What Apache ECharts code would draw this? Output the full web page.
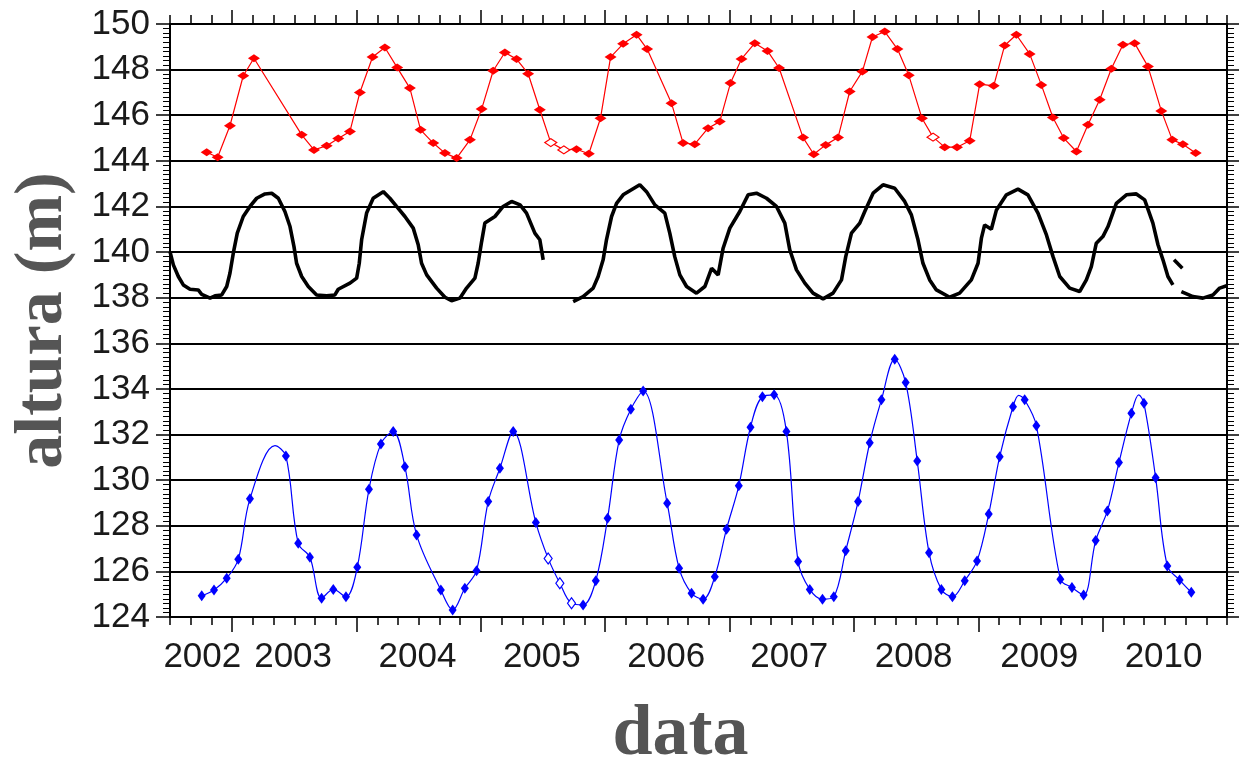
<!DOCTYPE html>
<html>
<head>
<meta charset="utf-8">
<title>altura (m)</title>
<script src="https://cdn.jsdelivr.net/npm/echarts@6/dist/echarts.min.js"></script>
<style>
  html, body { margin: 0; padding: 0; background: #fff; }
  #chart { width: 1239px; height: 758px; }
</style>
</head>
<body>
<div id="chart"></div>
<script>
// eixo x em anos decimais, eixo y em metros
const X_MIN = 2002.5;
const X_MAX = 2011;
const yearTicks = [2003, 2004, 2005, 2006, 2007, 2008, 2009, 2010];
const yearLabelPos = [2002.76, 2003.49, 2004.49, 2005.49, 2006.49, 2007.48, 2008.48, 2009.49, 2010.49];
const yearLabels = ['2002', '2003', '2004', '2005', '2006', '2007', '2008', '2009', '2010'];

// serie vermelha (pontos de altimetria)
const redData = [
  [2002.795, 144.38], [2002.883, 144.16], [2002.982, 145.54], [2003.089, 147.73], [2003.175, 148.50],
  [2003.559, 145.14], [2003.658, 144.48], [2003.760, 144.66], [2003.853, 144.98], [2003.947, 145.29],
  [2004.027, 147.00], [2004.129, 148.55], [2004.228, 148.97], [2004.327, 148.09], [2004.429, 147.19],
  [2004.515, 145.36], [2004.617, 144.78], [2004.711, 144.34], [2004.805, 144.12], [2004.912, 144.92],
  [2005.006, 146.27], [2005.099, 147.95], [2005.193, 148.75], [2005.287, 148.46], [2005.380, 147.82],
  [2005.474, 146.24], [2005.562, 144.80], [2005.667, 144.48], [2005.769, 144.51], [2005.868, 144.31],
  [2005.962, 145.87], [2006.043, 148.55], [2006.144, 149.13], [2006.252, 149.53], [2006.337, 148.90],
  [2006.533, 146.53], [2006.626, 144.78], [2006.720, 144.73], [2006.827, 145.43], [2006.921, 145.72],
  [2007.007, 147.41], [2007.096, 148.47], [2007.203, 149.16], [2007.305, 148.82], [2007.398, 148.07],
  [2007.591, 145.02], [2007.677, 144.29], [2007.773, 144.70], [2007.872, 145.02], [2007.966, 147.04],
  [2008.068, 147.92], [2008.149, 149.43], [2008.248, 149.67], [2008.350, 148.90], [2008.441, 147.75],
  [2008.547, 145.87], [2008.636, 145.04], [2008.730, 144.60], [2008.829, 144.60], [2008.931, 144.88],
  [2009.011, 147.36], [2009.124, 147.29], [2009.212, 149.06], [2009.306, 149.53], [2009.413, 148.69],
  [2009.507, 147.33], [2009.600, 145.90], [2009.687, 145.00], [2009.789, 144.41], [2009.882, 145.58],
  [2009.976, 146.68], [2010.070, 148.04], [2010.163, 149.09], [2010.257, 149.16], [2010.364, 148.14],
  [2010.472, 146.19], [2010.560, 144.92], [2010.645, 144.73], [2010.748, 144.34]
];
const redOpen = [2005.562, 2005.667, 2008.636];

// serie preta (regua, com falhas)
const blackA = [
  [2002.500, 140.02], [2002.527, 139.44], [2002.567, 138.93], [2002.607, 138.56], [2002.661, 138.37],
  [2002.727, 138.34], [2002.755, 138.15], [2002.822, 137.98], [2002.862, 138.08], [2002.916, 138.12],
  [2002.956, 138.49], [2002.982, 139.07], [2003.009, 139.95], [2003.041, 140.83], [2003.089, 141.56],
  [2003.143, 142.00], [2003.197, 142.36], [2003.264, 142.55], [2003.318, 142.58], [2003.371, 142.36],
  [2003.424, 141.78], [2003.465, 141.12], [2003.497, 140.24], [2003.518, 139.51], [2003.559, 138.93],
  [2003.612, 138.49], [2003.679, 138.12], [2003.760, 138.08], [2003.826, 138.12], [2003.853, 138.37],
  [2003.947, 138.64], [2004.001, 138.86], [2004.022, 139.51], [2004.041, 140.54], [2004.081, 141.71],
  [2004.134, 142.36], [2004.215, 142.65], [2004.268, 142.36], [2004.322, 142.00], [2004.389, 141.56],
  [2004.456, 141.05], [2004.496, 140.32], [2004.523, 139.51], [2004.564, 139.00], [2004.644, 138.42],
  [2004.711, 138.02], [2004.764, 137.87], [2004.831, 137.98], [2004.885, 138.42], [2004.952, 138.86],
  [2004.978, 139.51], [2005.006, 140.46], [2005.032, 141.27], [2005.113, 141.56], [2005.179, 142.00],
  [2005.247, 142.22], [2005.315, 142.07], [2005.367, 141.71], [2005.434, 140.83], [2005.474, 140.54],
  [2005.501, 139.66]
];
const blackB = [
  [2005.742, 137.83], [2005.822, 138.05], [2005.903, 138.42], [2005.943, 138.93], [2005.983, 139.66],
  [2006.010, 140.54], [2006.051, 141.56], [2006.091, 142.14], [2006.144, 142.51], [2006.211, 142.73],
  [2006.278, 142.95], [2006.332, 142.65], [2006.399, 142.07], [2006.479, 141.71], [2006.519, 140.83],
  [2006.559, 139.80], [2006.600, 139.00], [2006.654, 138.49], [2006.734, 138.20], [2006.801, 138.49],
  [2006.855, 139.29], [2006.908, 139.00], [2006.948, 140.17], [2007.002, 141.05], [2007.082, 141.78],
  [2007.149, 142.51], [2007.216, 142.58], [2007.297, 142.36], [2007.377, 142.00], [2007.444, 141.27],
  [2007.484, 140.10], [2007.538, 139.22], [2007.605, 138.64], [2007.671, 138.20], [2007.752, 137.95],
  [2007.832, 138.20], [2007.900, 138.78], [2007.934, 139.80], [2007.980, 140.83], [2008.047, 141.27],
  [2008.087, 141.78], [2008.154, 142.58], [2008.234, 142.95], [2008.328, 142.80], [2008.408, 142.22],
  [2008.462, 141.63], [2008.515, 140.54], [2008.555, 139.51], [2008.609, 138.78], [2008.663, 138.34],
  [2008.770, 138.02], [2008.850, 138.20], [2008.944, 138.78], [2008.998, 139.51], [2009.025, 140.61],
  [2009.051, 141.19], [2009.105, 141.00], [2009.146, 141.85], [2009.226, 142.51], [2009.319, 142.76],
  [2009.399, 142.51], [2009.480, 141.71], [2009.548, 140.75], [2009.601, 139.80], [2009.655, 138.93],
  [2009.735, 138.42], [2009.815, 138.27], [2009.869, 138.78], [2009.909, 139.36], [2009.949, 140.39],
  [2010.002, 140.68], [2010.043, 141.12], [2010.110, 142.14], [2010.191, 142.51], [2010.271, 142.55],
  [2010.338, 142.29], [2010.404, 141.27], [2010.445, 140.32], [2010.485, 139.66], [2010.525, 138.93],
  [2010.565, 138.56]
];
const blackC = [[2010.574, 139.66], [2010.641, 139.29]];
const blackD = [
  [2010.633, 138.27], [2010.726, 138.05], [2010.806, 137.98], [2010.887, 138.12], [2010.941, 138.42],
  [2010.997, 138.52]
];

// serie azul (curva suavizada com pontos)
const blueData = [
  [2002.755, 124.93], [2002.854, 125.18], [2002.956, 125.70], [2003.049, 126.53], [2003.143, 129.18],
  [2003.344, 131.51], [2003.432, 131.06], [2003.531, 127.23], [2003.625, 126.62], [2003.719, 124.82],
  [2003.813, 125.21], [2003.915, 124.89], [2004.006, 126.18], [2004.100, 129.60], [2004.196, 131.59],
  [2004.295, 132.13], [2004.389, 130.59], [2004.483, 127.60], [2004.678, 125.18], [2004.773, 124.31],
  [2004.871, 125.26], [2004.965, 126.03], [2005.059, 129.06], [2005.153, 130.52], [2005.260, 132.13],
  [2005.442, 128.14], [2005.541, 126.57], [2005.635, 125.48], [2005.729, 124.60], [2005.822, 124.53],
  [2005.924, 125.59], [2006.019, 128.33], [2006.112, 131.76], [2006.206, 133.11], [2006.305, 133.91],
  [2006.498, 128.99], [2006.594, 126.14], [2006.694, 125.04], [2006.787, 124.78], [2006.881, 125.77],
  [2006.975, 127.85], [2007.074, 129.75], [2007.168, 132.32], [2007.264, 133.66], [2007.358, 133.74],
  [2007.457, 132.13], [2007.551, 126.43], [2007.645, 125.21], [2007.747, 124.78], [2007.838, 124.89],
  [2007.934, 126.91], [2008.033, 129.06], [2008.127, 131.64], [2008.221, 133.52], [2008.328, 135.30],
  [2008.416, 134.28], [2008.509, 130.84], [2008.604, 126.82], [2008.703, 125.21], [2008.792, 124.89],
  [2008.891, 125.59], [2008.990, 126.46], [2009.084, 128.52], [2009.172, 131.03], [2009.279, 133.22],
  [2009.325, 133.72], [2009.373, 133.52], [2009.467, 132.39], [2009.660, 125.65], [2009.753, 125.29],
  [2009.847, 124.96], [2009.944, 127.35], [2010.038, 128.65], [2010.131, 130.77], [2010.231, 132.93],
  [2010.290, 133.74], [2010.332, 133.37], [2010.426, 130.11], [2010.520, 126.24], [2010.619, 125.62],
  [2010.713, 125.08]
];
const blueOpen = [2005.541, 2005.635, 2005.729];
const blueNoMark = [2003.344, 2009.325, 2010.290];

// tracinhos do eixo x a cada 2 meses
const minorX = [];
for (let m = 0; m <= 51; m++) minorX.push(X_MIN + m / 6);

function markPoints(data, color, open, noMark) {
  return data.map(function (p) {
    if (noMark && noMark.indexOf(p[0]) >= 0) return { value: p, symbol: 'none' };
    if (open.indexOf(p[0]) >= 0) {
      return { value: p, itemStyle: { color: '#fff', borderColor: color, borderWidth: 1.2 } };
    }
    return p;
  });
}

const black = { color: '#000', width: 1.5 };
const labelFont = { fontFamily: 'Liberation Sans, Arial, sans-serif', fontSize: 35, color: '#1a1a1a' };

function xAxisCfg(position, ticks, len, extra) {
  return Object.assign({
    type: 'value', position: position, min: X_MIN, max: X_MAX,
    axisLine: { show: true, onZero: false, lineStyle: { color: '#000', width: 2 } },
    axisTick: { show: true, length: len, customValues: ticks, lineStyle: black },
    axisLabel: { show: false },
    splitLine: { show: false }
  }, extra || {});
}

const blackLine = function (data) {
  return {
    type: 'line', data: data, showSymbol: false, symbol: 'none',
    lineStyle: { color: '#000', width: 3.6 }, z: 3
  };
};

const option = {
  animation: false,
  grid: { left: 170, right: 12, top: 24, bottom: 141, outerBoundsMode: 'none', containLabel: false },
  xAxis: [
    xAxisCfg('bottom', yearTicks, 15, {
      axisLabel: Object.assign({
        show: true, margin: 23, customValues: yearLabelPos,
        formatter: function (v) { return yearLabels[yearLabelPos.indexOf(v)] || String(Math.floor(v)); }
      }, labelFont),
      name: 'data', nameLocation: 'middle', nameGap: 82,
      nameTextStyle: {
        fontFamily: 'Liberation Serif, Times New Roman, serif', fontWeight: 'bold',
        fontSize: 72, color: '#555', padding: [0, 36, 0, 0]
      }
    }),
    xAxisCfg('bottom', minorX, 8),
    xAxisCfg('top', yearTicks, 14),
    xAxisCfg('top', minorX, 9)
  ],
  yAxis: [
    {
      type: 'value', position: 'left', min: 124, max: 150, interval: 2,
      axisLine: { show: true, lineStyle: { color: '#000', width: 2 } },
      axisTick: { show: true, length: 14, lineStyle: black },
      minorTick: { show: true, splitNumber: 10, length: 7, lineStyle: { color: '#000', width: 1 } },
      axisLabel: Object.assign({ margin: 20 }, labelFont),
      splitLine: { show: true, lineStyle: { color: '#000', width: 1.8 } },
      name: 'altura (m)', nameLocation: 'middle', nameGap: 93,
      nameTextStyle: {
        fontFamily: 'Liberation Serif, Times New Roman, serif', fontWeight: 'bold',
        fontSize: 68, color: '#555'
      }
    },
    {
      type: 'value', position: 'right', min: 124, max: 150, interval: 2,
      axisLine: { show: true, lineStyle: { color: '#000', width: 2 } },
      axisTick: { show: true, length: 12, lineStyle: black },
      minorTick: { show: true, splitNumber: 10, length: 7, lineStyle: { color: '#000', width: 1 } },
      axisLabel: { show: false },
      splitLine: { show: false }
    }
  ],
  series: [
    {
      type: 'line', data: markPoints(redData, '#ff0000', redOpen),
      symbol: 'diamond', symbolSize: [12, 8], color: '#ff0000',
      lineStyle: { color: '#ff0000', width: 1.2 }, z: 4
    },
    blackLine(blackA),
    blackLine(blackB),
    blackLine(blackC),
    blackLine(blackD),
    {
      type: 'line', data: markPoints(blueData, '#0000ff', blueOpen, blueNoMark),
      smooth: 0.35, symbol: 'diamond', symbolSize: [8, 11], color: '#0000ff',
      lineStyle: { color: '#0000ff', width: 1.2 }, z: 4
    }
  ]
};

const chart = echarts.init(document.getElementById('chart'));
chart.setOption(option);
window.onresize = function () {
  chart.resize();
};
</script>
</body>
</html>
